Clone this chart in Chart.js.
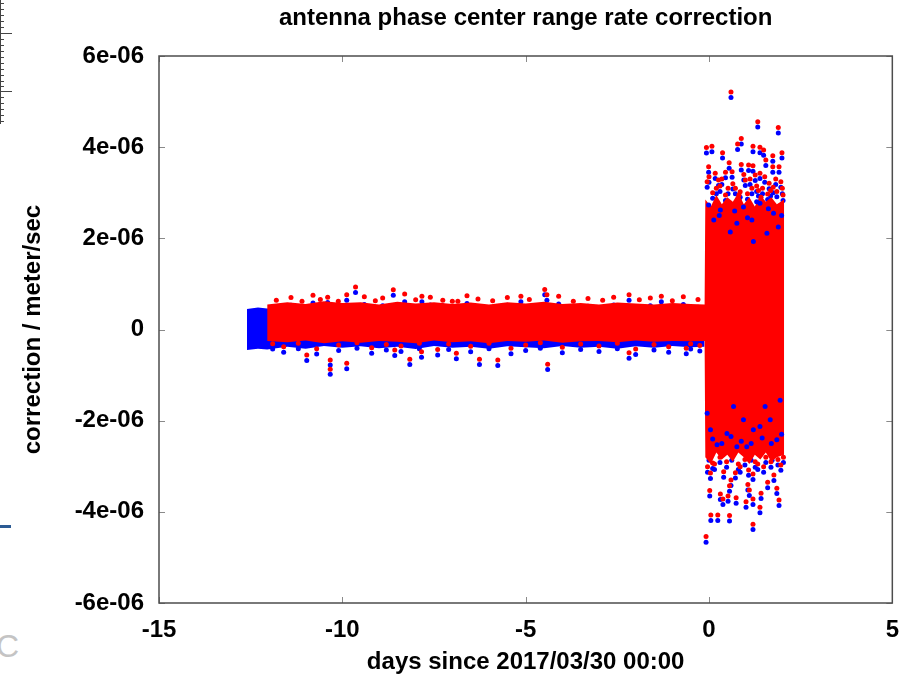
<!DOCTYPE html>
<html>
<head>
<meta charset="utf-8">
<script src="https://cdn.jsdelivr.net/npm/chart.js@4"></script>
<style>
	body { margin: 0; background: #fff; }
	.page { position: relative; width: 912px; height: 677px; overflow: hidden; }
	.page canvas { position: absolute; left: 0; top: 0; }
	.edge-ruler { position: absolute; left: 0; top: 0; }
	.edge-bar { position: absolute; left: 0; top: 525px; width: 11px; height: 3px; background: #2c5b94; }
	.edge-letter { position: absolute; left: -4px; top: 628px; font: 32px "Liberation Sans", Arial, sans-serif; color: #c4c4c4; }
</style>
</head>
<body>
<div class="page">
	<svg class="edge-ruler" width="14" height="130">
		<line x1="0.5" y1="0" x2="0.5" y2="124" stroke="#444" />
		<g stroke="#444" stroke-width="1">
			<line x1="0" y1="3.5" x2="4" y2="3.5" /><line x1="0" y1="9.5" x2="4" y2="9.5" />
			<line x1="0" y1="15.5" x2="4" y2="15.5" /><line x1="0" y1="21.5" x2="4" y2="21.5" />
			<line x1="0" y1="27.5" x2="4" y2="27.5" /><line x1="0" y1="33.5" x2="12" y2="33.5" />
			<line x1="0" y1="39.5" x2="4" y2="39.5" /><line x1="0" y1="45.5" x2="4" y2="45.5" />
			<line x1="0" y1="51.5" x2="4" y2="51.5" /><line x1="0" y1="57.5" x2="4" y2="57.5" />
			<line x1="0" y1="63.5" x2="4" y2="63.5" /><line x1="0" y1="69.5" x2="4" y2="69.5" />
			<line x1="0" y1="75.5" x2="4" y2="75.5" /><line x1="0" y1="81.5" x2="4" y2="81.5" />
			<line x1="0" y1="86.5" x2="4" y2="86.5" /><line x1="0" y1="91.5" x2="12" y2="91.5" />
			<line x1="0" y1="97.5" x2="4" y2="97.5" /><line x1="0" y1="103.5" x2="4" y2="103.5" />
			<line x1="0" y1="109.5" x2="4" y2="109.5" /><line x1="0" y1="115.5" x2="4" y2="115.5" />
			<line x1="0" y1="121.5" x2="4" y2="121.5" />
		</g>
	</svg>
	<div class="edge-bar"></div>
	<div class="edge-letter">C</div>
	<canvas id="rateChart" width="912" height="677"></canvas>
</div>
<script>
// значения по оси y в единицах 1e-06 m/s

// плотная полоса (красная), верхняя и нижняя граница
const bandX = [-12.05, -11.5, -11, -10.5, -10, -9.5, -9, -8.5, -8, -7.5, -7, -6.5, -6, -5.5, -5, -4.5, -4, -3.5, -3, -2.5, -2, -1.5, -1, -0.5, -0.12,
	-0.1, 0.05, 0.2, 0.35, 0.5, 0.65, 0.8, 0.95, 1.1, 1.25, 1.4, 1.55, 1.7, 1.85, 2.05];
const redTop = [0.55, 0.6, 0.56, 0.62, 0.58, 0.6, 0.55, 0.61, 0.57, 0.6, 0.56, 0.59, 0.55, 0.6, 0.57, 0.61, 0.56, 0.58, 0.55, 0.59, 0.57, 0.55, 0.58, 0.56, 0.55,
	2.85, 2.7, 2.95, 2.75, 2.9, 2.8, 3.0, 2.75, 2.9, 2.7, 2.95, 2.8, 2.9, 2.75, 2.85];
const redBottom = [-0.25, -0.28, -0.24, -0.3, -0.26, -0.29, -0.25, -0.27, -0.3, -0.24, -0.28, -0.26, -0.3, -0.25, -0.27, -0.24, -0.29, -0.26, -0.25, -0.28, -0.24, -0.27, -0.25, -0.26, -0.25,
	-2.8, -2.95, -2.7, -2.85, -2.75, -2.9, -2.7, -2.8, -2.95, -2.75, -2.85, -2.7, -2.9, -2.8, -2.75];

// синяя полоса под красной
const blueBandX = [-12.6, -12.3, -12.05, -11.5, -11, -10.5, -10, -9.5, -9, -8.5, -8, -7.5, -7, -6.5, -6, -5.5, -5, -4.5, -4, -3.5, -3, -2.5, -2, -1.5, -1, -0.5, -0.12];
const blueTop = [0.45, 0.48, 0.46, 0.45, 0.45, 0.46, 0.45, 0.45, 0.46, 0.45, 0.45, 0.46, 0.45, 0.45, 0.45, 0.46, 0.45, 0.45, 0.45, 0.46, 0.45, 0.45, 0.45, 0.45, 0.45, 0.45, 0.45];
const blueBottom = [-0.45, -0.42, -0.44, -0.38, -0.42, -0.36, -0.4, -0.37, -0.41, -0.38, -0.43, -0.36, -0.4, -0.38, -0.42, -0.37, -0.39, -0.41, -0.36, -0.4, -0.38, -0.42, -0.37, -0.4, -0.36, -0.39, -0.38];

// отдельные точки: x, красная y, синяя y
const outX = [0.6, 1.33, 1.89, -0.07, 0.08, 0.88, 0.78, 0.37, 1.2, 1.39, 1.49, 1.74, 1.99, -0.01, 0.55, 0.63, 0.88, 1.08, 1.2, 1.39, 1.55, 1.74, 1.91,
	0.17, 0.26, 0.99, 1.26, 1.96, 1.64, 0.52, 0.72, 1.46, 1.17, -0.05, 0.1, 0.45, 0.85, 1.05, 1.35, 1.6, 1.85, 2.02, 0.3, 1.75,
	0.0, 0.2, 0.35, 0.65, 0.95, 1.12, 1.3, 1.52, 1.68, 1.82, 2.0, 0.45, 0.82, 1.42,
	-0.08, 1.2, 0.05, 0.24, 0.56, 1.39, 0.02, 0.56, 1.06, 1.85, 0.31, 0.38, 0.52, 0.74, 1.01, 1.2, 1.42, 1.91, 1.1,
	-0.04, 0.04, 0.4, 0.72, 1.2, 1.77, 1.08, 1.49, 1.96, 0.85, 0.1, 1.69, 1.26,
	0.0, 0.15, 0.3, 0.48, 0.62, 0.8, 0.98, 1.15, 1.33, 1.55, 1.72, 1.88, 2.03, 0.6, 1.6,
	-9.64, -8.61, -4.48, -4.42, -9.88, -10.4, -7.83, -5.13, -2.18, -1.3, -10.11, -7.26, -6.85,
	-11.8, -11.4, -11.1, -10.8, -10.6, -9.4, -9.1, -8.9, -8.3, -8.0, -7.6, -7.0, -6.6, -6.3, -5.9, -5.5, -4.9, -4.1, -3.7, -3.3, -2.9, -2.6, -1.9, -1.6, -1.0, -0.7, -0.3,
	-10.33, -10.33, -10.97, -9.88, -8.16, -7.84, -6.26, -5.76, -4.4, -2.18, -8.57, -6.89, -0.62,
	-11.9, -11.6, -11.2, -10.7, -10.1, -9.6, -9.2, -8.8, -8.4, -7.9, -7.4, -7.1, -6.5, -6.0, -5.4, -5.0, -4.6, -4.0, -3.5, -3.0, -2.5, -2.0, -1.5, -1.1, -0.5, -0.25];
const outRed = [5.21, 4.56, 4.43, 3.99, 4.02, 4.19, 4.07, 3.88, 4.02, 4.0, 3.94, 3.81, 3.88, 3.57, 3.66, 3.46, 3.62, 3.61, 3.59, 3.43, 3.72, 3.57, 3.57,
	3.43, 3.28, 3.28, 3.39, 3.24, 3.21, 3.1, 3.1, 3.1, 3.1, 3.24, 3.0, 2.95, 3.02, 2.98, 3.05, 2.97, 3.03, 2.95, 3.15, 3.12,
	3.35, 3.1, 3.3, 3.2, 3.4, 3.3, 3.15, 3.35, 3.05, 3.3, 3.1, 3.45, 2.95, 2.9,
	-4.54, -4.27, -4.07, -4.07, -4.08, -3.9, -3.53, -3.43, -3.4, -3.48, -3.61, -3.72, -3.65, -3.69, -3.78, -3.72, -3.59, -3.74, -3.52,
	-3.01, -3.15, -3.12, -3.14, -3.17, -3.19, -3.08, -3.01, -2.97, -3.01, -2.93, -2.9, -2.9,
	-2.75, -2.95, -2.8, -2.9, -2.75, -2.95, -2.85, -2.75, -2.95, -2.8, -2.75, -2.85, -2.8, -3.3, -3.35,
	0.93, 0.87, 0.88, 0.76, 0.76, 0.71, 0.73, 0.73, 0.76, 0.73, 0.62, 0.64, 0.62,
	0.64, 0.7, 0.62, 0.75, 0.66, 0.72, 0.63, 0.69, 0.78, 0.65, 0.71, 0.62, 0.74, 0.67, 0.63, 0.7, 0.66, 0.73, 0.62, 0.68, 0.64, 0.71, 0.65, 0.69, 0.63, 0.72, 0.66,
	-0.67, -0.87, -0.56, -0.74, -0.65, -0.49, -0.65, -0.67, -0.76, -0.51, -0.45, -0.52, -0.41,
	-0.31, -0.38, -0.3, -0.42, -0.34, -0.29, -0.4, -0.33, -0.36, -0.3, -0.44, -0.32, -0.37, -0.3, -0.41, -0.34, -0.29, -0.39, -0.32, -0.36, -0.3, -0.43, -0.33, -0.38, -0.31, -0.35];
const outBlue = [5.09, 4.44, 4.31, 3.87, 3.9, 4.07, 3.95, 3.76, 3.9, 3.88, 3.82, 3.69, 3.76, 3.45, 3.54, 3.34, 3.5, 3.49, 3.47, 3.31, 3.6, 3.45, 3.45,
	3.31, 3.16, 3.16, 3.27, 3.12, 3.09, 2.98, 2.98, 2.98, 2.98, 3.12, 2.88, 2.83, 2.9, 2.86, 2.93, 2.85, 2.91, 2.83, 3.03, 3.0,
	3.23, 2.98, 3.18, 3.08, 3.28, 3.18, 3.03, 3.23, 2.93, 3.18, 2.98, 3.33, 2.83, 2.78,
	-4.67, -4.39, -4.19, -4.19, -4.2, -4.02, -3.65, -3.55, -3.52, -3.6, -3.73, -3.84, -3.77, -3.81, -3.9, -3.84, -3.71, -3.86, -3.64,
	-3.13, -3.27, -3.24, -3.26, -3.29, -3.31, -3.2, -3.13, -3.09, -3.13, -3.05, -3.02, -3.02,
	-2.87, -3.07, -2.92, -3.02, -2.87, -3.07, -2.97, -2.87, -3.07, -2.92, -2.87, -2.97, -2.92, -3.42, -3.47,
	0.81, 0.75, 0.76, 0.64, 0.64, 0.59, 0.61, 0.61, 0.64, 0.61, 0.5, 0.52, 0.5,
	0.47, 0.53, 0.45, 0.58, 0.49, 0.55, 0.46, 0.52, 0.61, 0.48, 0.54, 0.45, 0.57, 0.5, 0.46, 0.53, 0.49, 0.56, 0.45, 0.51, 0.47, 0.54, 0.48, 0.52, 0.46, 0.55, 0.49,
	-0.78, -0.98, -0.68, -0.86, -0.77, -0.61, -0.77, -0.79, -0.88, -0.63, -0.57, -0.64, -0.53,
	-0.43, -0.5, -0.42, -0.54, -0.46, -0.41, -0.52, -0.45, -0.48, -0.42, -0.56, -0.44, -0.49, -0.42, -0.53, -0.46, -0.41, -0.51, -0.44, -0.48, -0.42, -0.55, -0.45, -0.5, -0.43, -0.47];

// синие точки внутри красного блока (видны у краёв)
const speckX = [-0.01, 0.31, 0.58, 0.94, 1.17, 1.39, 1.76, 1.89, 0.13, 0.76, 1.58, 1.21, 1.3, 0.28, 0.7, 1.05, 1.62, 1.98,
	-0.05, 0.49, 0.94, 1.39, 1.85, 0.22, 0.76, 1.21, 1.67, 0.04, 1.94, 1.53, 0.67, 1.03,
	0.1, 0.35, 0.6, 0.88, 1.15, 1.45, 1.7, 1.98];
const speckY = [2.73, 2.62, 2.14, 2.69, 2.4, 2.77, 2.55, 2.25, 2.4, 2.33, 2.11, 1.93, 2.8, 2.5, 2.6, 2.45, 2.65, 2.5,
	-1.84, -2.28, -1.98, -2.13, -2.42, -2.53, -2.57, -2.2, -1.98, -2.2, -1.55, -1.69, -1.69, -2.57,
	-2.4, -2.5, -2.35, -2.45, -2.5, -2.38, -2.5, -2.3];

const yTicks = [-6, -4, -2, 0, 2, 4, 6];

const RED = "#ff0000";
const BLUE = "#0000ff";

function pts(xs, ys) {
	return xs.map((x, i) => ({ x: x, y: ys[i] }));
}

// рамка и внутренние засечки как в gnuplot
const frameTicks = {
	id: "frameTicks",
	afterDraw(chart) {
		const { ctx, chartArea: a, scales } = chart;
		ctx.save();
		ctx.strokeStyle = "#8a8a8a";
		ctx.lineWidth = 1;
		scales.x.ticks.forEach((t) => {
			const px = Math.round(scales.x.getPixelForValue(t.value)) + 0.5;
			ctx.beginPath();
			ctx.moveTo(px, a.bottom);
			ctx.lineTo(px, a.bottom - 6);
			ctx.moveTo(px, a.top);
			ctx.lineTo(px, a.top + 6);
			ctx.stroke();
		});
		scales.y.ticks.forEach((t) => {
			const py = Math.round(scales.y.getPixelForValue(t.value)) + 0.5;
			ctx.beginPath();
			ctx.moveTo(a.left, py);
			ctx.lineTo(a.left + 6, py);
			ctx.moveTo(a.right, py);
			ctx.lineTo(a.right - 6, py);
			ctx.stroke();
		});
		ctx.strokeStyle = "#4d4d4d";
		ctx.lineWidth = 1.5;
		ctx.strokeRect(a.left, a.top, a.right - a.left, a.bottom - a.top);
		ctx.restore();
	},
};

Chart.defaults.font.family = "'Liberation Sans', Arial, Helvetica, sans-serif";
Chart.defaults.font.size = 24;
Chart.defaults.font.weight = "bold";
Chart.defaults.color = "#000";

const bandStyle = (color, fill) => ({
	type: "line",
	borderWidth: 0,
	borderColor: color,
	backgroundColor: color,
	pointRadius: 0,
	tension: 0,
	fill: fill,
});

const dotStyle = (color) => ({
	backgroundColor: color,
	borderWidth: 0,
	pointRadius: 2.5,
});

const ctx = document.getElementById("rateChart");

// первый набор рисуется поверх остальных
new Chart(ctx, {
	type: "scatter",
	data: {
		datasets: [
			{ label: "red", data: pts(outX, outRed), ...dotStyle(RED) },
			{ label: "blue in block", data: pts(speckX, speckY), ...dotStyle(BLUE) },
			{ label: "red band top", data: pts(bandX, redTop), ...bandStyle(RED, "+1") },
			{ label: "red band bottom", data: pts(bandX, redBottom), ...bandStyle(RED, false) },
			{ label: "blue", data: pts(outX, outBlue), ...dotStyle(BLUE) },
			{ label: "blue band top", data: pts(blueBandX, blueTop), ...bandStyle(BLUE, "+1") },
			{ label: "blue band bottom", data: pts(blueBandX, blueBottom), ...bandStyle(BLUE, false) },
		],
	},
	options: {
		responsive: false,
		animation: false,
		layout: { padding: { left: 0, right: 16, top: 0, bottom: 0 } },
		plugins: {
			legend: { display: false },
			tooltip: { enabled: false },
			title: {
				display: true,
				text: "antenna phase center range rate correction",
				fullSize: false,
				font: { size: 24, weight: "bold" },
				color: "#000",
				padding: { top: 4, bottom: 23.2 },
			},
		},
		scales: {
			x: {
				type: "linear",
				min: -15,
				max: 5,
				grid: { display: false, drawTicks: false },
				border: { display: false },
				ticks: { stepSize: 5, padding: 13 },
				title: { display: true, text: "days since 2017/03/30 00:00", padding: { top: 0, bottom: 0 } },
				afterFit(scale) {
					scale.height = 74;
				},
			},
			y: {
				min: -6,
				max: 6,
				grid: { display: false, drawTicks: false },
				border: { display: false },
				afterBuildTicks(scale) {
					scale.ticks = yTicks.map((v) => ({ value: v }));
				},
				ticks: {
					padding: 15,
					callback: (v) => (v === 0 ? "0" : v + "e-06"),
				},
				title: { display: true, text: "correction / meter/sec", padding: { top: 19, bottom: 0 } },
				afterFit(scale) {
					scale.width = 159;
				},
			},
		},
	},
	plugins: [frameTicks],
});
</script>
</body>
</html>
